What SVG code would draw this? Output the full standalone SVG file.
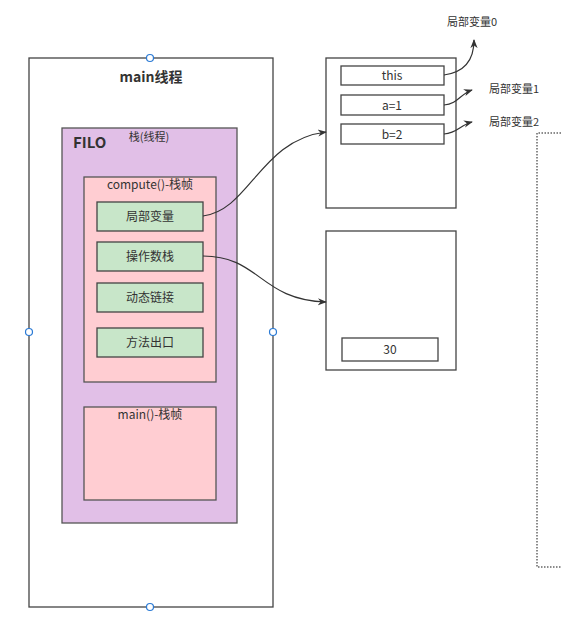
<svg xmlns="http://www.w3.org/2000/svg" width="561" height="627" viewBox="0 0 561 627">
<defs>
<style>
text{font-family:"Noto Sans CJK SC","Noto Sans",sans-serif;fill:#333;}
.box{fill:#fff;stroke:#444;stroke-width:1.3;}
.purple{fill:#e1bfe7;stroke:#555;stroke-width:1.3;}
.pink{fill:#ffcdd2;stroke:#555;stroke-width:1.3;}
.green{fill:#c8e6c9;stroke:#444;stroke-width:1.3;}
.lbl{font-size:12px;text-anchor:middle;}
.small{font-size:11px;text-anchor:middle;}
.conn{fill:none;stroke:#333;stroke-width:1.2;}
.handle{fill:#fff;stroke:#2a7ad5;stroke-width:1.2;}
.dot{fill:none;stroke:#666;stroke-width:1.5;stroke-dasharray:1.5 1.5;}
</style>
<marker id="arr" viewBox="0 0 10 10" refX="9" refY="5" markerWidth="9" markerHeight="9" orient="auto" markerUnits="userSpaceOnUse">
<path d="M0,1 L10,5 L0,9 L3,5 Z" fill="#333"/>
</marker>
</defs>

<g id="main-thread">
<rect class="box" x="29" y="58" width="244" height="549"/>
<text x="151" y="82" style="font-size:14px;font-weight:bold;text-anchor:middle;">main线程</text>
</g>

<g id="stack">
<rect class="purple" x="62" y="128" width="175" height="395"/>
<text x="73" y="148" style="font-size:15px;font-weight:bold;">FILO</text>
<text x="149" y="141" class="small">栈(线程)</text>
</g>

<g id="compute-frame">
<rect class="pink" x="84" y="177" width="132" height="205"/>
<text x="150" y="189" class="lbl">compute()-栈帧</text>
</g>

<g id="local-vars">
<rect class="green" x="97" y="202" width="106" height="29"/>
<text x="150" y="221" class="lbl">局部变量</text>
</g>
<g id="operand-stack">
<rect class="green" x="97" y="242" width="106" height="29"/>
<text x="150" y="261" class="lbl">操作数栈</text>
</g>
<g id="dynamic-link">
<rect class="green" x="97" y="283" width="106" height="29"/>
<text x="150" y="302" class="lbl">动态链接</text>
</g>
<g id="method-exit">
<rect class="green" x="97" y="328" width="106" height="29"/>
<text x="150" y="347" class="lbl">方法出口</text>
</g>

<g id="main-frame">
<rect class="pink" x="84" y="407" width="132" height="93"/>
<text x="150" y="419" class="lbl">main()-栈帧</text>
</g>

<g id="local-var-table">
<rect class="box" x="326" y="58" width="130" height="150"/>
</g>
<g id="this-slot">
<rect class="box" x="341" y="66" width="103" height="19"/>
<text x="392" y="80" class="lbl">this</text>
</g>
<g id="a-slot">
<rect class="box" x="341" y="95" width="103" height="20"/>
<text x="392" y="110" class="lbl">a=1</text>
</g>
<g id="b-slot">
<rect class="box" x="341" y="124" width="103" height="20"/>
<text x="392" y="139" class="lbl">b=2</text>
</g>

<g id="operand-table">
<rect class="box" x="326" y="231" width="130" height="139"/>
</g>
<g id="v30">
<rect class="box" x="342" y="338" width="96" height="23"/>
<text x="390" y="354" class="lbl">30</text>
</g>

<g id="label0"><text x="472" y="26" class="small">局部变量0</text></g>
<g id="label1"><text x="514" y="93" class="small">局部变量1</text></g>
<g id="label2"><text x="514" y="126" class="small">局部变量2</text></g>

<g id="dotted-region">
<path class="dot" d="M561,133 L537,133 L537,567 L561,567"/>
</g>

<g id="connectors">
<path class="conn" marker-end="url(#arr)" d="M203,216 C250,210 260,140 326,132"/>
<path class="conn" marker-end="url(#arr)" d="M203,256 C260,256 260,300 326,302"/>
<path class="conn" marker-end="url(#arr)" d="M444,75 C466,72 474,58 474,40"/>
<path class="conn" marker-end="url(#arr)" d="M444,105 C458,104 460,94 472,90"/>
<path class="conn" marker-end="url(#arr)" d="M444,134 C458,133 460,125 472,122"/>
</g>

<g id="handles">
<circle class="handle" cx="150" cy="58" r="3.5"/>
<circle class="handle" cx="29" cy="332" r="3.5"/>
<circle class="handle" cx="273" cy="332" r="3.5"/>
<circle class="handle" cx="150" cy="607" r="3.5"/>
</g>
</svg>
